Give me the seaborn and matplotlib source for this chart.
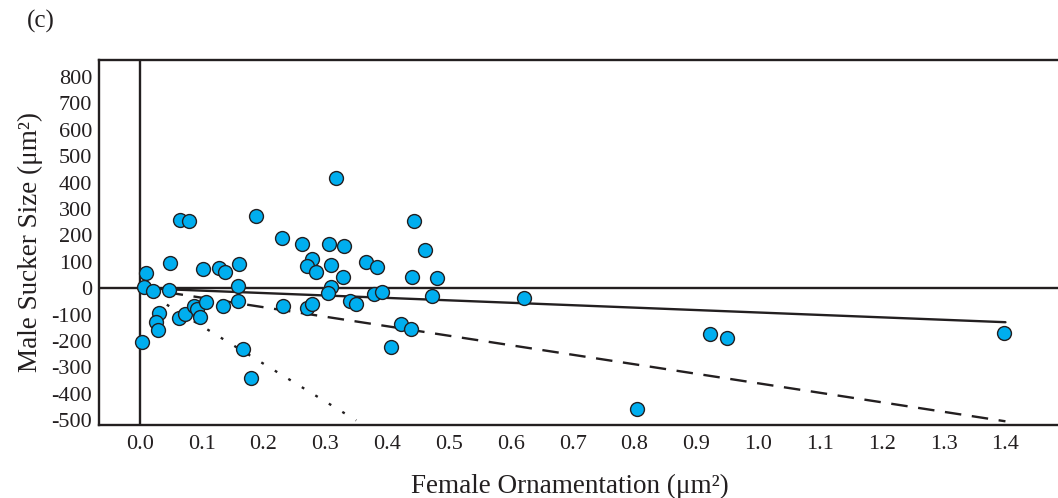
import numpy as np
import pandas as pd
import seaborn as sns
import matplotlib.pyplot as plt

# values
female_orn = [0.003, 0.010, 0.006, 0.021, 0.047, 0.049, 0.065, 0.079, 0.031, 0.026,
              0.029, 0.063, 0.073, 0.087, 0.092, 0.097, 0.107, 0.102, 0.128, 0.138,
              0.160, 0.159, 0.159, 0.134, 0.167, 0.180, 0.188, 0.230, 0.231, 0.317,
              0.262, 0.306, 0.330, 0.278, 0.270, 0.285, 0.309, 0.328, 0.366, 0.383,
              0.443, 0.461, 0.440, 0.480, 0.472, 0.309, 0.304, 0.340, 0.349, 0.379,
              0.392, 0.422, 0.439, 0.406, 0.270, 0.278, 0.621, 0.922, 0.949, 1.398,
              0.804]
male_sucker = [-205, 57, 4, -11, -8, 95, 258, 254, -95, -128,
               -159, -113, -98, -66, -80, -109, -52, 72, 76, 61,
               91, 8, -49, -68, -231, -341, 273, 189, -68, 417,
               167, 167, 159, 110, 83, 60, 87, 42, 98, 82,
               254, 143, 41, 38, -30, 4, -18, -49, -61, -23,
               -15, -136, -155, -223, -76, -61, -38, -172, -187, -168,
               -457]

# fitted lines: slope and x extent
line_slopes = [-92, -360, -1430]
line_x_end = [1.40, 1.40, 0.35]
line_styles = ["-", (0, (7, 4.5)), (0, (1.2, 5.5))]

x_ticks = [0.0, 0.1, 0.2, 0.3, 0.4, 0.5, 0.6, 0.7, 0.8, 0.9, 1.0, 1.1, 1.2, 1.3, 1.4]
y_ticks = [-500, -400, -300, -200, -100, 0, 100, 200, 300, 400, 500, 600, 700, 800]

df = pd.DataFrame({"x": female_orn, "y": male_sucker})

sns.set_style("white")
plt.rcParams["font.family"] = ["Liberation Serif", "DejaVu Serif"]

fig = plt.figure(figsize=(10.58, 4.98), dpi=100)
ax = fig.add_axes([99 / 1058, 73 / 498, 1 - 99 / 1058, 365 / 498])

# reference lines through the origin
ax.axhline(0, color="#231f20", lw=1.7, zorder=1)
ax.axvline(0, color="#231f20", lw=1.7, zorder=1)

for slope, xe, ls in zip(line_slopes, line_x_end, line_styles):
    xs = np.array([0.0, xe])
    ax.plot(xs, slope * xs, color="#231f20", lw=1.7, linestyle=ls, zorder=2)

sns.scatterplot(data=df, x="x", y="y", ax=ax, s=100, color="#00aeef",
                edgecolor="#231f20", linewidth=1.0, zorder=3, legend=False)

ax.set_xlim(-0.066, 1.485)
ax.set_ylim(-518, 864)
ax.set_xticks(x_ticks)
ax.set_xticklabels([f"{v:.1f}" for v in x_ticks])
ax.set_yticks(y_ticks)
ax.set_yticklabels([str(v) for v in y_ticks])
ax.tick_params(axis="both", length=0, labelsize=16, colors="#231f20")
ax.tick_params(axis="x", pad=7)
ax.tick_params(axis="y", pad=5)

for side in ["left", "top", "bottom"]:
    ax.spines[side].set_color("#231f20")
    ax.spines[side].set_linewidth(1.7)
ax.spines["right"].set_visible(False)

ax.set_xlabel("Female Ornamentation (μm²)", fontsize=19.5, color="#231f20", labelpad=10)
ax.set_ylabel("Male Sucker Size (μm²)", fontsize=19.5, color="#231f20", labelpad=6)
ax.xaxis.set_label_coords((570 - 99) / (1058 - 99), -0.135)

fig.text(41 / 1058, 1 - 21 / 498, "(c)", fontsize=18, color="#231f20",
         ha="center", va="center")

fig.savefig("out.png", dpi=100)
